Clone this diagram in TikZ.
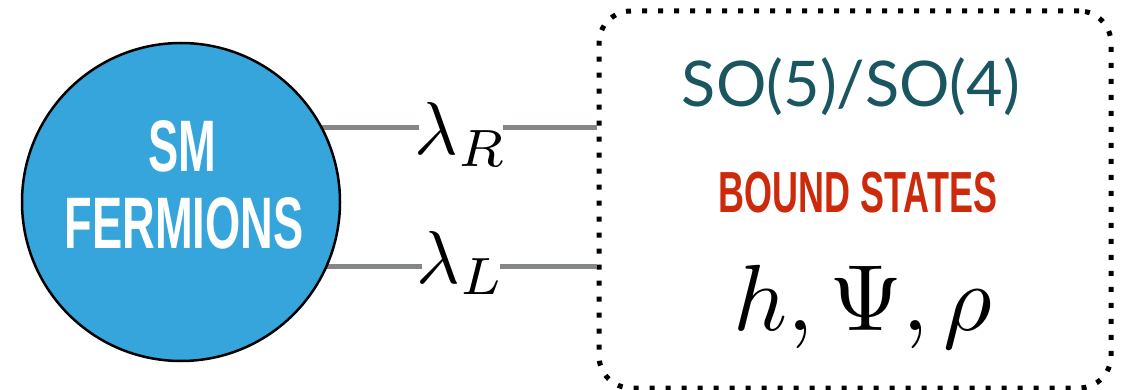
\documentclass[tikz,border=0pt]{standalone}
\usepackage{fontspec}
\usepackage{tikz}
\usetikzlibrary{positioning}
\newfontfamily\dinfont[FakeStretch=0.62]{Liberation Sans}
\newfontfamily\avefont{Lato}
\definecolor{smblue}{HTML}{35A5DC}
\definecolor{cosetteal}{HTML}{1A5660}
\definecolor{boundred}{HTML}{CC2A0B}
\definecolor{wiregray}{HTML}{838787}

\tikzset{
  wire/.style={wiregray,line width=5pt},
  coupling/.style={inner xsep=-0.85pt,inner ysep=0pt,scale=7.5},
  sector/.style={draw,line width=5pt,dash pattern=on 5pt off 11pt,
    rounded corners=32pt,minimum width=512pt,minimum height=377pt}
}

\begin{document}
\begin{tikzpicture}[x=1pt,y=-1pt]
  \useasboundingbox (0,0) rectangle (1124,390);
  % the composite sector
  \node[sector] (bound) at (855,199.5) {};
  \node[anchor=base,cosetteal,font=\avefont\fontsize{63}{70}\selectfont] (coset) at (851,107) {SO(5)/SO(4)};
  \node[anchor=base,boundred,font=\dinfont\bfseries\fontsize{58}{60}\selectfont] (states) at (858,213) {BOUND STATES};
  \node[anchor=base,scale=9.4] (fields) at (863,330) {$h,\Psi,\rho$};
  % mixings
  \node[coupling,anchor=base] (lamR) at (461,155) {$\lambda_R$};
  \node[coupling,anchor=base] (lamL) at (461,283) {$\lambda_L$};
  \coordinate (up) at (181,128);
  \coordinate (dn) at (181,266);
  \draw[wire] (up) -- (up -| lamR.west);
  \draw[wire] (up -| lamR.east) -- (up -| bound.west);
  \draw[wire] (dn) -- (dn -| lamL.west);
  \draw[wire] (dn -| lamL.east) -- (dn -| bound.west);
  % elementary fields
  \node[circle,draw=black,line width=2.5pt,fill=smblue,minimum size=318pt,inner sep=0pt] (sm) at (181,202) {};
  \node[anchor=base,white,font=\dinfont\bfseries\fontsize{73}{76}\selectfont] (smtxt) at (182,172) {SM};
  \node[anchor=base,white,font=\dinfont\bfseries\fontsize{73}{76}\selectfont] (fermtxt) at (184,248) {FERMIONS};
\end{tikzpicture}
\end{document}
